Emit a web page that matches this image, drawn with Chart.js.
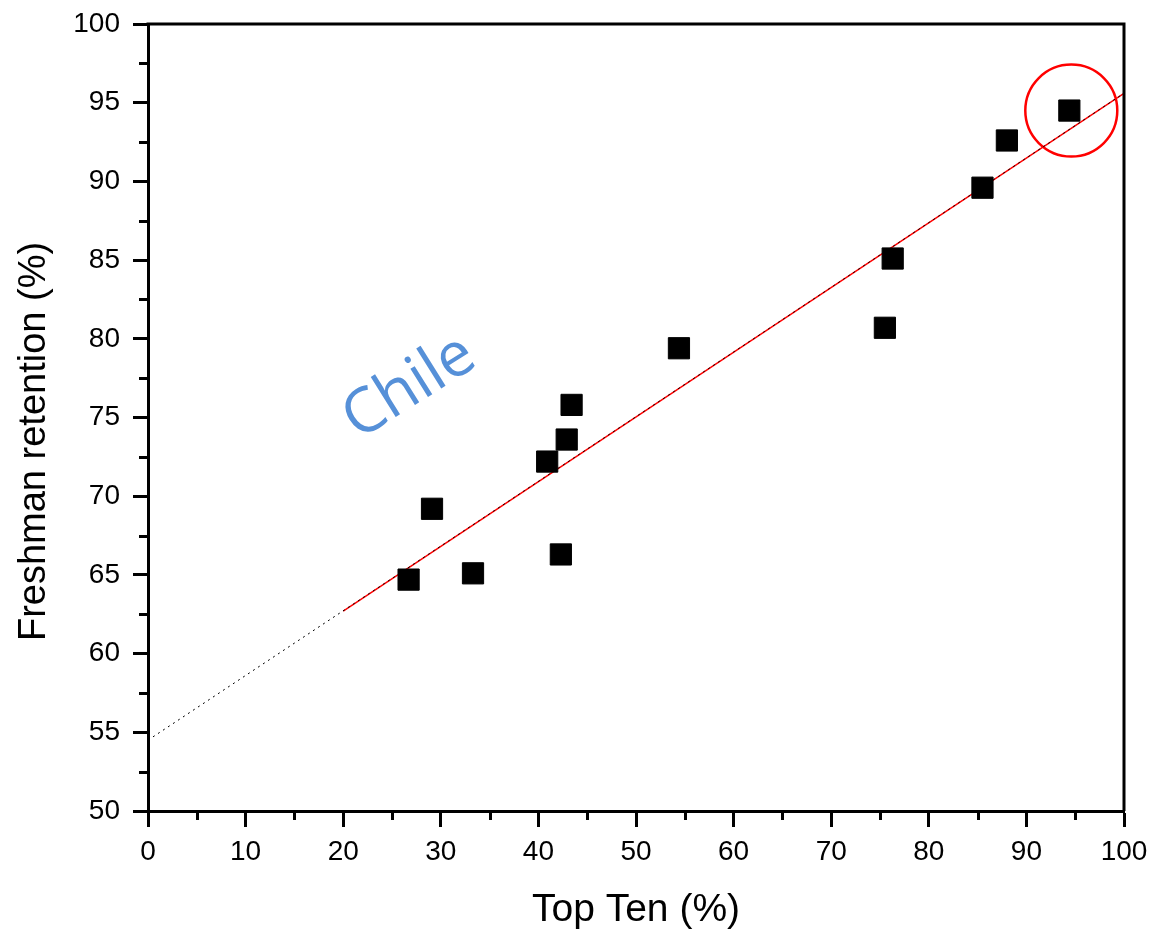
<!DOCTYPE html>
<html>
<head>
<meta charset="utf-8">
<script src="https://cdn.jsdelivr.net/npm/chart.js@4/dist/chart.umd.min.js"></script>
<style>
  html, body { margin: 0; padding: 0; background: #fff; }
  #wrap { width: 1153px; height: 930px; }
</style>
</head>
<body>
<div id="wrap"><canvas id="grafico" width="1153" height="930"></canvas></div>
<script>
// datos
const topTen = [26.7, 29.1, 33.3, 40.9, 42.3, 42.9, 43.4, 54.4, 75.5, 76.3, 85.5, 88.0, 94.4];
const retention = [64.7, 69.2, 65.1, 72.2, 66.3, 73.6, 75.8, 79.4, 80.7, 85.1, 89.6, 92.6, 94.5];

// recta de ajuste
const fitX = [20, 100];
const fitY = [62.7, 95.6];
const extX = [0, 100];
const extY = [54.5, 95.6];

// punto marcado con el circulo
const markX = [94.6];
const markY = [94.5];

const label = 'Chile';
const labelPos = { x: 26.8, y: 76.9 };
const yTitle = 'Freshman retention (%)';

const fontFam = '"Liberation Sans", Arial, sans-serif';

const toPts = (xs, ys) => xs.map((x, i) => ({ x: x, y: ys[i] }));

// sin margenes automaticos de las etiquetas
const noPad = (s) => {
  s.paddingTop = 0;
  s.paddingBottom = 0;
  s.paddingLeft = 0;
  s.paddingRight = 0;
};

// ticks menores, marco y textos
const extras = {
  id: 'extras',
  afterDraw(chart) {
    const ctx = chart.ctx;
    const { left, right, top, bottom } = chart.chartArea;
    const sx = chart.scales.x;
    const sy = chart.scales.y;
    ctx.save();
    ctx.strokeStyle = '#000';
    ctx.lineWidth = 3;
    ctx.beginPath();
    for (let v = 5; v < 100; v += 10) {
      const px = Math.round(sx.getPixelForValue(v)) + 0.5;
      ctx.moveTo(px, bottom);
      ctx.lineTo(px, bottom + 9);
    }
    for (let v = 52.5; v < 100; v += 5) {
      const py = Math.round(sy.getPixelForValue(v)) + 0.5;
      ctx.moveTo(left, py);
      ctx.lineTo(left - 9, py);
    }
    // lados superior y derecho
    ctx.moveTo(left - 1.5, top);
    ctx.lineTo(right, top);
    ctx.lineTo(right, bottom);
    ctx.stroke();
    ctx.restore();

    // titulo del eje y (un poco por debajo del centro, como en el original)
    ctx.save();
    ctx.translate(35, (top + bottom) / 2 + 24);
    ctx.rotate(-Math.PI / 2);
    ctx.fillStyle = '#000';
    ctx.font = '38px ' + fontFam;
    ctx.textAlign = 'center';
    ctx.textBaseline = 'middle';
    ctx.fillText(yTitle, 0, 0);
    ctx.restore();

    // texto "Chile"
    ctx.save();
    ctx.translate(sx.getPixelForValue(labelPos.x), sy.getPixelForValue(labelPos.y));
    ctx.rotate(-32 * Math.PI / 180);
    ctx.fillStyle = '#5690d8';
    ctx.font = '62px "Open Sans"';
    ctx.textAlign = 'center';
    ctx.textBaseline = 'middle';
    ctx.fillText(label, 0, 0);
    ctx.restore();
  }
};

const canvas = document.getElementById('grafico');
const ctx = canvas.getContext('2d');

new Chart(ctx, {
  type: 'scatter',
  data: {
    datasets: [
      {
        data: toPts(topTen, retention),
        pointStyle: 'rect',
        pointRadius: 15,
        backgroundColor: '#000',
        borderColor: '#000',
        borderWidth: 1,
        order: 0
      },
      {
        type: 'line',
        data: toPts(extX, extY),
        borderColor: '#000',
        borderWidth: 1,
        borderDash: [2, 4],
        pointRadius: 0,
        fill: false,
        order: 1
      },
      {
        type: 'line',
        data: toPts(fitX, fitY),
        borderColor: '#ff0000',
        borderWidth: 1.5,
        pointRadius: 0,
        fill: false,
        order: 2
      },
      {
        data: toPts(markX, markY),
        pointStyle: 'circle',
        pointRadius: 46,
        backgroundColor: 'rgba(0,0,0,0)',
        borderColor: '#ff0000',
        borderWidth: 2.5,
        order: 3
      }
    ]
  },
  options: {
    responsive: false,
    animation: false,
    layout: { autoPadding: false, padding: { top: 24, right: 29, left: 0, bottom: 0 } },
    plugins: {
      legend: { display: false },
      tooltip: { enabled: false }
    },
    scales: {
      x: {
        type: 'linear',
        min: 0,
        max: 100,
        afterFit: (s) => { s.height = 119; noPad(s); },
        ticks: {
          stepSize: 10,
          color: '#000',
          padding: 8,
          maxRotation: 0,
          font: { family: fontFam, size: 28 }
        },
        grid: { drawOnChartArea: false, tickLength: 16, tickWidth: 3, tickColor: '#000' },
        border: { color: '#000', width: 3 },
        title: {
          display: true,
          text: 'Top Ten (%)',
          color: '#000',
          padding: { top: 0, bottom: 0 },
          font: { family: fontFam, size: 39, lineHeight: 1.0 }
        }
      },
      y: {
        min: 50,
        max: 100,
        afterFit: (s) => { s.width = 148; noPad(s); },
        ticks: {
          stepSize: 5,
          color: '#000',
          padding: 13,
          font: { family: fontFam, size: 28 }
        },
        grid: { drawOnChartArea: false, tickLength: 15, tickWidth: 3, tickColor: '#000' },
        border: { color: '#000', width: 3 },
        title: { display: false }
      }
    }
  },
  plugins: [extras]
});
</script>
</body>
</html>
